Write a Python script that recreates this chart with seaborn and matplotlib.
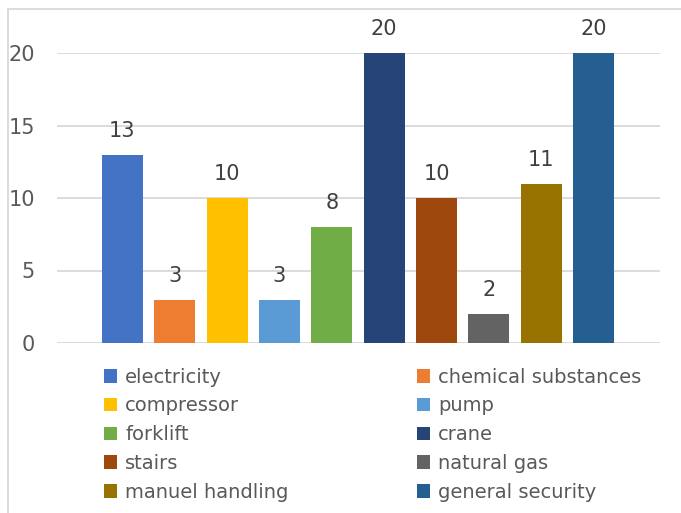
import matplotlib
matplotlib.use("Agg")
import matplotlib.pyplot as plt
import matplotlib.patches as mpatches
from matplotlib.lines import Line2D
import pandas as pd
import seaborn as sns

categories = ["electricity", "chemical substances", "compressor", "pump", "forklift",
              "crane", "stairs", "natural gas", "manuel handling", "general security"]
counts = [13, 3, 10, 3, 8, 20, 10, 2, 11, 20]
colors = ["#4472C4", "#ED7D31", "#FFC000", "#5B9BD5", "#70AD47",
          "#264478", "#9E480E", "#636363", "#997300", "#255E91"]

sns.set_style("white")
plt.rcParams["font.family"] = ["DejaVu Sans"]

df = pd.DataFrame({"category": categories, "count": counts})

fig = plt.figure(figsize=(6.81, 5.13), dpi=100)
ax = fig.add_axes([57 / 681, 1 - 343 / 513, (660 - 57) / 681, (343 - 53) / 513])

sns.barplot(data=df, x="category", y="count", hue="category", palette=colors,
            width=0.78, legend=False, ax=ax, saturation=1, linewidth=0)

for cont in ax.containers:
    ax.bar_label(cont, padding=10, fontsize=15, color="#404040")

ax.set_ylim(0, 20)
ax.set_xlim(-1.25, 10.27)
ax.set_yticks([0, 5, 10, 15, 20])
ax.yaxis.grid(True, color="#d9d9d9", linewidth=1.3)
ax.set_axisbelow(True)
ax.set_xticks([])
ax.set_xlabel("")
ax.set_ylabel("")
ax.tick_params(axis="y", length=0, pad=16, labelsize=15, labelcolor="#595959")
for s in ax.spines.values():
    s.set_visible(False)

# legend, filled row by row like the original (two columns)
handles = [mpatches.Patch(color=c, label=l, linewidth=0) for c, l in zip(colors, categories)]
order = [0, 2, 4, 6, 8, 1, 3, 5, 7, 9]
fig.legend([handles[i] for i in order], [categories[i] for i in order],
           ncol=2, loc="upper left", bbox_to_anchor=(94 / 681, 1 - 358 / 513),
           frameon=False, borderpad=0, fontsize=14, labelcolor="#595959",
           handlelength=0.7, handleheight=0.7, handletextpad=0.4,
           columnspacing=6.6, labelspacing=0.5)

# chart border (top and left edges visible)
fig.add_artist(Line2D([8 / 681, 1], [1 - 9 / 513, 1 - 9 / 513], color="#d9d9d9", lw=1.3))
fig.add_artist(Line2D([8 / 681, 8 / 681], [0, 1 - 9 / 513], color="#d9d9d9", lw=1.3))

fig.savefig("out.png", dpi=100)
